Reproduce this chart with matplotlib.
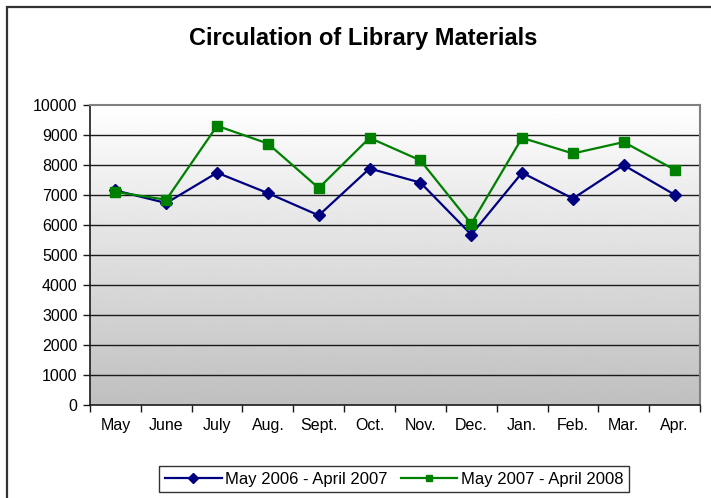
import numpy as np
import matplotlib.pyplot as plt
from matplotlib.patches import Rectangle

plt.rcParams['font.family'] = ['Liberation Sans', 'DejaVu Sans']

# monthly circulation counts
months = ['May', 'June', 'July', 'Aug.', 'Sept.', 'Oct.', 'Nov.', 'Dec.',
          'Jan.', 'Feb.', 'Mar.', 'Apr.']
circ_2006_07 = [7140, 6720, 7730, 7050, 6310, 7870, 7400, 5670, 7730, 6870, 7980, 7000]
circ_2007_08 = [7090, 6830, 9290, 8700, 7220, 8890, 8140, 6030, 8890, 8370, 8750, 7830]
y_ticks = [0, 1000, 2000, 3000, 4000, 5000, 6000, 7000, 8000, 9000, 10000]

fig = plt.figure(figsize=(7.11, 4.98), dpi=100)
ax = fig.add_axes([90 / 711, 1 - 405 / 498, 610 / 711, 300.5 / 498])

# outer chart frame (cut off at right and bottom like the original)
fig.patches.append(Rectangle((7 / 711, -0.05), 1.0, 1 - 7 / 498 + 0.05,
                             transform=fig.transFigure, fill=False,
                             edgecolor='#333333', linewidth=1.6))

x = np.arange(len(months))

# gradient background of the plot area
grad = np.linspace(0.75, 1.0, 256).reshape(-1, 1)
ax.imshow(grad, extent=[-0.5, 11.5, 0, 10000], origin='lower', aspect='auto',
          cmap='gray', vmin=0, vmax=1, zorder=0)

for v in y_ticks[1:-1]:
    ax.axhline(v, color='#1a1a1a', linewidth=1.0, zorder=1)

ax.plot(x, circ_2006_07, color='#000080', linewidth=1.6, marker='D',
        markersize=6, label='May 2006 - April 2007', zorder=3)
ax.plot(x, circ_2007_08, color='#008000', linewidth=1.6, marker='s',
        markersize=7.5, label='May 2007 - April 2008', zorder=4)

ax.set_xlim(-0.5, 11.5)
ax.set_ylim(0, 10000)
ax.set_yticks(y_ticks)
ax.set_xticks(x)
ax.set_xticklabels(months)
ax.set_xticks(np.arange(-0.5, 12, 1), minor=True)
ax.tick_params(axis='x', which='major', length=0, pad=9, labelsize=11.5)
ax.tick_params(axis='x', which='minor', length=5, width=1, color='#1a1a1a')
ax.tick_params(axis='y', length=5, width=1, pad=4, labelsize=11.5, color='#1a1a1a')

for side in ['left', 'bottom']:
    ax.spines[side].set_color('#1a1a1a')
    ax.spines[side].set_linewidth(1.2)
for side in ['top', 'right']:
    ax.spines[side].set_color('#808080')
    ax.spines[side].set_linewidth(1.5)

fig.text(0.511, 1 - 38 / 498, 'Circulation of Library Materials',
         ha='center', va='center', fontsize=17, fontweight='bold')

leg = fig.legend(loc='center', bbox_to_anchor=(394 / 711, 1 - 479 / 498), ncol=2,
                 fontsize=12, frameon=True, fancybox=False, handlelength=3.4,
                 columnspacing=0.8, handletextpad=0.2, borderpad=0.35,
                 borderaxespad=0)
leg.get_frame().set_edgecolor('black')
leg.get_frame().set_linewidth(1.0)
for h in leg.legend_handles:
    h.set_markersize(5)

fig.savefig('out.png', dpi=100)
